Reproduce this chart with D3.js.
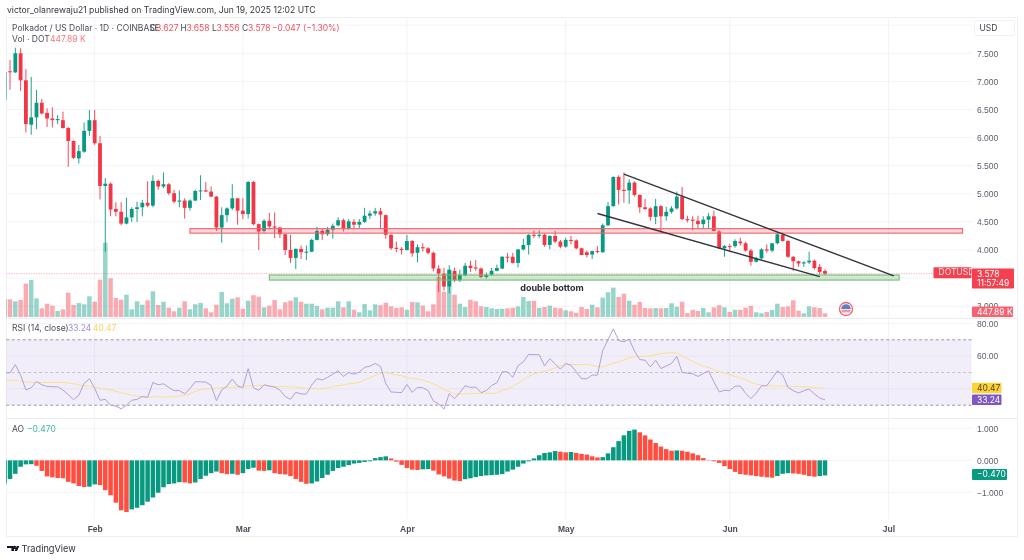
<!DOCTYPE html>
<html>
<head>
<meta charset="utf-8">
<script src="https://cdn.jsdelivr.net/npm/d3@7"></script>
<style>
    html, body { margin: 0; padding: 0; background: #fff; }
    svg { display: block; font-family: Inter, "Liberation Sans", sans-serif; filter: blur(0.35px); }
    .tick-label text { font-size: 8.5px; fill: #5d606b; }
    .month-axis text { font-size: 8.5px; font-weight: 600; fill: #4a4d57; }
    .legend { font-size: 8.5px; fill: #4a4d57; }
</style>
</head>
<body>
<div id="chart"></div>
<script>
// Jan 15 to Jun 19 2025, one row per month in every series
const opens = [
    6.67,7.18,7.16,7.50,7.02,6.23,6.36,6.62,6.44,6.34,6.31,6.31,6.17,5.94,5.63,5.75,6.12,
    6.31,5.90,5.14,5.18,4.73,4.68,4.47,4.58,4.73,4.76,4.84,4.79,5.23,5.13,5.17,5.01,4.86,4.88,4.75,4.88,5.05,5.06,5.04,4.95,4.40,4.62,4.74,4.92,
    4.70,4.64,5.21,4.46,4.34,4.52,4.42,4.40,4.28,4.00,3.86,4.02,3.96,3.97,4.18,4.34,4.28,4.36,4.44,4.53,4.39,4.50,4.45,4.50,4.61,4.65,4.69,4.62,4.27,4.04,4.02,
    4.00,4.16,3.95,4.05,4.03,3.95,3.67,3.58,3.35,3.63,3.46,3.55,3.72,3.69,3.67,3.52,3.56,3.63,3.67,3.88,3.88,3.77,4.01,4.09,4.27,4.26,4.27,4.09,4.25,4.15,
    4.06,4.18,4.17,4.03,3.96,3.92,3.98,3.96,4.44,4.78,5.30,5.07,5.06,5.20,4.98,4.76,4.74,4.59,4.78,4.60,4.68,4.74,4.95,4.55,4.54,4.52,4.46,4.54,4.60,4.33,4.03,
    4.07,4.07,4.15,4.12,3.99,3.79,3.85,4.01,3.99,4.12,4.27,4.16,3.88,3.80,3.76,3.78,3.81,3.70,3.627
];
const highs = [
    7.17,7.38,7.60,7.59,7.22,7.08,6.85,6.69,6.52,6.54,6.40,6.46,6.19,5.95,5.87,6.27,6.49,
    6.49,6.03,5.28,5.20,4.85,4.85,4.93,4.76,4.86,4.89,5.22,5.33,5.25,5.38,5.19,5.07,5.06,4.92,4.90,5.07,5.33,5.21,5.13,4.96,4.76,4.76,5.17,4.92,
    4.92,5.23,5.23,4.47,4.55,4.66,4.67,4.41,4.29,4.27,4.03,4.08,4.08,4.20,4.41,4.38,4.41,4.47,4.58,4.56,4.55,4.55,4.55,4.75,4.70,4.75,4.75,4.63,4.28,4.15,4.05,
    4.27,4.18,4.10,4.12,4.05,3.97,3.73,3.68,3.73,3.68,3.65,3.77,3.81,3.82,3.69,3.60,3.68,3.74,3.89,3.95,3.95,4.02,4.20,4.28,4.35,4.35,4.29,4.26,4.34,4.18,
    4.22,4.25,4.19,4.04,3.99,3.99,4.07,4.47,4.85,5.31,5.33,5.38,5.26,5.22,4.99,4.91,4.76,4.91,4.80,4.77,4.78,5.04,5.12,4.61,4.60,4.61,4.60,4.66,4.70,4.35,4.09,
    4.11,4.19,4.22,4.15,4.02,3.88,4.03,4.10,4.12,4.31,4.31,4.17,3.89,3.81,3.80,3.97,3.83,3.75,3.658
];
const lows = [
    6.67,6.85,7.15,6.83,6.09,6.05,6.15,6.41,6.19,6.18,6.24,6.16,5.48,5.62,5.54,5.73,6.03,
    5.87,4.90,3.97,4.60,4.60,4.44,4.46,4.50,4.50,4.60,4.76,4.76,5.07,5.10,4.98,4.83,4.76,4.56,4.70,4.87,4.89,5.03,4.94,4.34,4.13,4.50,4.71,4.45,
    4.55,4.56,4.44,4.00,4.31,4.37,4.21,4.21,3.91,3.77,3.66,3.84,3.82,3.96,4.17,4.18,4.25,4.20,4.42,4.33,4.36,4.38,4.39,4.48,4.55,4.61,4.38,4.20,4.00,3.96,3.92,
    3.99,3.88,3.78,3.97,3.92,3.62,3.25,3.28,3.23,3.43,3.43,3.53,3.61,3.63,3.50,3.49,3.54,3.62,3.66,3.78,3.76,3.69,3.99,3.92,4.21,4.21,4.06,4.01,4.12,4.03,
    4.04,4.10,4.01,3.91,3.87,3.84,3.94,3.95,4.42,4.77,4.81,4.84,4.82,4.95,4.66,4.71,4.52,4.46,4.30,4.52,4.65,4.72,4.53,4.49,4.35,4.39,4.39,4.39,4.33,4.02,3.88,
    3.96,4.04,4.08,3.97,3.72,3.78,3.83,3.95,3.96,4.10,4.15,3.86,3.63,3.70,3.70,3.75,3.65,3.56,3.556
];
const closes = [
    7.17,7.17,7.50,7.02,6.24,6.36,6.62,6.43,6.34,6.31,6.33,6.17,5.94,5.64,5.76,6.12,6.31,
    5.90,5.14,5.18,4.72,4.68,4.47,4.58,4.73,4.76,4.84,4.79,5.23,5.13,5.17,5.01,4.86,4.88,4.75,4.88,5.05,5.06,5.04,4.95,4.40,4.62,4.74,4.92,4.70,
    4.64,5.21,4.46,4.33,4.52,4.42,4.40,4.28,4.00,3.86,4.02,3.96,3.97,4.18,4.34,4.28,4.36,4.43,4.53,4.39,4.51,4.45,4.50,4.61,4.65,4.69,4.63,4.27,4.03,4.02,4.00,
    4.16,3.94,4.05,4.03,3.95,3.67,3.58,3.35,3.65,3.46,3.56,3.72,3.68,3.67,3.52,3.56,3.63,3.68,3.88,3.87,3.77,4.01,4.09,4.27,4.26,4.27,4.09,4.25,4.15,4.06,
    4.18,4.16,4.03,3.91,3.91,3.98,3.97,4.44,4.78,5.30,5.07,5.05,5.20,4.98,4.76,4.73,4.59,4.78,4.60,4.68,4.74,4.95,4.55,4.53,4.52,4.46,4.54,4.60,4.34,4.03,4.07,
    4.06,4.16,4.12,3.99,3.79,3.85,4.01,3.99,4.12,4.28,4.16,3.88,3.80,3.76,3.78,3.81,3.68,3.61,3.578
];
const volumes = [
    2180,2140,1900,2060,4030,4480,2260,1050,1610,1370,730,930,2940,1450,1690,1540,2500,
    1850,4510,8990,4680,2300,2090,2700,930,1900,1490,2020,3110,1450,1850,1130,690,1130,1900,930,1540,1690,1050,570,1490,3030,1660,2210,2380,
    1000,1970,2630,2460,1170,1370,2060,930,1780,1970,2380,1850,1610,1610,1330,930,1130,1130,1900,1170,1900,880,570,1570,810,1540,1420,1730,1290,1090,1170,
    880,1820,1780,1370,690,1540,4840,3060,5650,2700,1610,1210,2090,1900,1290,1210,1050,970,1000,1050,1130,1290,2420,1940,1940,1090,1210,1370,1130,1050,
    810,690,520,1210,970,1490,1170,2340,2990,3550,2420,2820,1970,1490,1820,1090,1050,1090,1050,1090,1660,1250,1850,480,880,730,1090,570,1170,1420,1170,
    610,880,850,1130,1330,570,450,610,850,1610,1210,1290,2020,760,450,1290,1170,1090,447.89
];
const rsiValues = [
    49.8,49.8,54.8,48.4,39.3,40.7,44.5,42.5,41.5,41.3,41.3,39.3,36.5,33.4,36,43.3,46.2,
    40.3,33,33.6,30,29.4,27.8,30,33,33.6,35.3,34.8,43.9,42.5,43.1,40.9,38.9,38.9,37,40.1,44.3,44.3,44.1,42.1,32.8,39.3,41.7,46,41.7,
    40.7,52.4,40.7,39.1,42.5,41.7,41.1,39.3,35.3,33.6,37.9,36.9,36.9,42.3,46.2,45.4,47,49,51,47.6,50,49,50.2,53.2,53.8,55.5,53.8,43.3,38.1,37.9,37.7,
    42.7,37.9,40.9,40.7,38.9,32.6,30.8,27.6,37.1,34,37.7,41.9,40.9,41.1,37.7,38.9,42.1,43.7,50.4,50.4,47,54.2,56.5,61.1,60.9,60.9,54,58.5,55.3,52,
    55.5,54.4,50.4,46.2,46.2,48.4,48.4,63.5,70,76.7,69.6,68.8,70.4,63.1,57.9,57.5,53.4,57.5,52.4,54,55.5,59.9,50,49.6,49.2,47.6,49.4,51,44.3,38.1,39.1,
    38.9,41.7,41.7,37.3,34,37.3,41.9,41.9,46.4,51,48.6,40.9,38.9,37.5,38.8,39.9,36.9,34.4,33.24
];
const rsiAverage = [
    44.9,45.2,45.3,44.7,44.3,44,43.9,43.9,43.9,43.9,43.9,43.8,43.7,43.2,42.4,41.9,41.5,
    40.9,40.5,39.9,39.3,38.5,37.7,36.9,36.2,35.6,35.1,35,35.1,35.2,35,35.1,35.3,35.6,36,37,38.4,39.4,40,40.2,40.5,40.7,40.9,41,41,
    41.3,41.8,41.9,42,41.9,41.7,41.5,41.3,41.3,41.3,41.1,40.7,40.4,40.1,40.1,40.1,40.6,41.5,42,42.4,43,43.5,44,45.4,46.8,48.2,49.5,49.9,49.3,48.4,48,
    47,46.3,46,45.4,44.3,43.1,41.5,39.7,38.3,37,36.7,36.9,37,37.3,37.3,37.3,37.3,37.5,38.9,40.1,41.7,43.5,45.6,47.6,49.2,50,50.8,51.6,52.8,54,
    55,55,54.8,54.8,54.8,54.4,53.8,53.4,54.6,55.7,56.5,57.7,58.9,59.7,59.9,59.9,60.3,60.9,61.5,61.9,62.1,61.9,60.1,58.5,56.9,55.3,54,53,51.8,50.6,49.6,
    48.6,47.6,46.6,45.6,43.9,42.9,42.3,41.9,41.7,41.7,41.7,41.7,41.5,41.5,41.3,41.1,40.9,40.5,40.47
];
const aoValues = [
    -.72,-.58,-.42,-.2,-.125,-.12,-.17,-.33,-.5,-.53,-.55,-.56,-.67,-.72,-.8,-.83,-.82,
    -.75,-.77,-.93,-1.09,-1.32,-1.56,-1.61,-1.53,-1.48,-1.4,-1.29,-1.16,-1.01,-.84,-.74,-.72,-.68,-.69,-.72,-.69,-.58,-.48,-.4,-.35,-.4,-.43,-.42,-.45,
    -.4,-.27,-.23,-.32,-.33,-.31,-.4,-.43,-.44,-.49,-.58,-.67,-.73,-.72,-.66,-.55,-.45,-.33,-.24,-.2,-.15,-.1,-.08,-.05,-.03,.07,.1,.125,.06,-.04,-.14,
    -.24,-.29,-.3,-.28,-.27,-.32,-.44,-.5,-.57,-.63,-.65,-.59,-.56,-.52,-.49,-.47,-.46,-.45,-.43,-.35,-.29,-.2,-.1,-.03,.06,.16,.23,.25,.29,.27,
    .25,.26,.23,.2,.18,.125,.09,.1,.22,.41,.6,.78,.92,.96,.875,.78,.65,.54,.43,.35,.3,.31,.3,.27,.22,.16,.07,-.01,-.03,-.08,-.18,
    -.27,-.36,-.43,-.45,-.47,-.49,-.51,-.53,-.54,-.49,-.42,-.4,-.41,-.42,-.45,-.49,-.51,-.49,-.47
];

const priceTicks = [3, 4, 4.5, 5, 5.5, 6, 6.5, 7, 7.5];
const priceGrid = [3, 3.5, 4, 4.5, 5, 5.5, 6, 6.5, 7, 7.5, 8];
const rsiTicks = [60, 80];
const rsiGrid = [40, 60, 80];
const rsiGuides = [70, 50, 30];
const aoTicks = [-1, 0, 1];
const monthTicks = ["2025-02-01", "2025-03-01", "2025-04-01", "2025-05-01", "2025-06-01", "2025-07-01"].map(d => new Date(d));
const axisEnd = new Date("2025-07-01");
const axisStart = new Date("2025-02-01");

// drawn zones and trend lines, as date and price
const resistanceZone = { from: "2025-02-19", to: "2025-07-15", top: 4.38, bottom: 4.30 };
const supportZone = { from: "2025-03-06", to: "2025-07-03", top: 3.555, bottom: 3.465 };
const trendLines = [
    [["2025-05-12", 5.35], ["2025-07-02", 3.54]],
    [["2025-05-07", 4.65], ["2025-06-18", 3.525]]
];
const lastPrice = 3.578;

const GREEN = "#089981";
const RED = "#f23645";
const AO_RED = "#ff4d3f";
const GRID = "#f3f3f6";
const PANE_LEFT = 6.2;
const PANE_RIGHT = 971.5;

const dates = d3.utcDay.range(new Date("2025-01-15"), new Date("2025-06-20"));
const rows = dates.map((date, i) => ({
    date, open: opens[i], high: highs[i], low: lows[i], close: closes[i],
    volume: volumes[i], rsi: rsiValues[i], rsiMa: rsiAverage[i], ao: aoValues[i],
    up: closes[i] >= opens[i],
    rising: i === 0 || aoValues[i] >= aoValues[i - 1]
}));

const x = d3.scaleUtc().domain([axisStart, axisEnd]).range([94.7, 888.5]);
const yPrice = d3.scaleLinear().domain([3, 7.5]).range([306.2, 53.3]);
const yVolume = d3.scaleLinear().domain([0, 9000]).range([317, 242.6]);
const yRsi = d3.scaleLinear().domain([30, 70]).range([405.2, 339.8]);
const yAo = d3.scaleLinear().domain([-1, 1]).range([492.4, 428.3]);

const svg = d3.select("#chart").append("svg").attr("width", 1024).attr("height", 560);

svg.append("defs").append("clipPath").attr("id", "pane")
    .append("rect").attr("x", PANE_LEFT).attr("y", 17).attr("width", PANE_RIGHT - PANE_LEFT).attr("height", 503);

// frame and pane separators
svg.append("rect").attr("x", 6.5).attr("y", 17.5).attr("width", 1011).attr("height", 519)
    .attr("fill", "none").attr("stroke", "#f0f0f3");
[318.5, 418.5].forEach(y => svg.append("line")
    .attr("x1", 6.5).attr("x2", 1017.5).attr("y1", y).attr("y2", y)
    .attr("stroke", "#ebebef"));

// grid
const grid = svg.append("g").attr("stroke", GRID).attr("stroke-width", 1);
grid.selectAll(".v").data(monthTicks).join("line")
    .attr("x1", d => x(d)).attr("x2", d => x(d)).attr("y1", 17).attr("y2", 519);
grid.selectAll(".p").data(priceGrid).join("line")
    .attr("x1", PANE_LEFT).attr("x2", PANE_RIGHT).attr("y1", d => yPrice(d)).attr("y2", d => yPrice(d));
grid.selectAll(".r").data(rsiGrid).join("line")
    .attr("x1", PANE_LEFT).attr("x2", PANE_RIGHT).attr("y1", d => yRsi(d)).attr("y2", d => yRsi(d));
grid.selectAll(".a").data(aoTicks).join("line")
    .attr("x1", PANE_LEFT).attr("x2", PANE_RIGHT).attr("y1", d => yAo(d)).attr("y2", d => yAo(d));

const plot = svg.append("g").attr("clip-path", "url(#pane)");

// volume sits behind the candles
const barWidth = 4.5;
plot.append("g").selectAll("rect").data(rows).join("rect")
    .attr("x", d => x(d.date) - barWidth / 2)
    .attr("width", barWidth)
    .attr("y", d => yVolume(d.volume))
    .attr("height", d => yVolume(0) - yVolume(d.volume))
    .attr("fill", d => d.up ? GREEN : RED)
    .attr("opacity", 0.42);

// last price line
plot.append("line")
    .attr("x1", PANE_LEFT).attr("x2", PANE_RIGHT)
    .attr("y1", yPrice(lastPrice)).attr("y2", yPrice(lastPrice))
    .attr("stroke", RED).attr("stroke-width", 0.8).attr("stroke-dasharray", "1,1.5").attr("opacity", 0.6);

// candles
const candles = plot.append("g").selectAll("g").data(rows).join("g");
candles.append("line")
    .attr("x1", d => x(d.date)).attr("x2", d => x(d.date))
    .attr("y1", d => yPrice(d.high)).attr("y2", d => yPrice(d.low))
    .attr("stroke", d => d.up ? GREEN : RED).attr("stroke-width", 0.9);
candles.append("rect")
    .attr("x", d => x(d.date) - 1.9)
    .attr("width", 3.8)
    .attr("y", d => yPrice(Math.max(d.open, d.close)))
    .attr("height", d => Math.max(1, Math.abs(yPrice(d.open) - yPrice(d.close))))
    .attr("fill", d => d.up ? GREEN : RED);

// zones
function drawZone(zone, fill, stroke) {
    svg.append("rect")
        .attr("x", x(new Date(zone.from)))
        .attr("width", x(new Date(zone.to)) - x(new Date(zone.from)))
        .attr("y", yPrice(zone.top))
        .attr("height", yPrice(zone.bottom) - yPrice(zone.top))
        .attr("fill", fill)
        .attr("stroke", stroke)
        .attr("stroke-width", 1.1);
}
drawZone(resistanceZone, "rgba(242,54,69,0.2)", "#f4606c");
drawZone(supportZone, "rgba(76,175,80,0.25)", "#76b878");

// trend lines
const trendLine = d3.line().x(d => x(new Date(d[0]))).y(d => yPrice(d[1]));
svg.append("g").selectAll("path").data(trendLines).join("path")
    .attr("d", trendLine)
    .attr("fill", "none")
    .attr("stroke", "#33363f")
    .attr("stroke-width", 1.4);

svg.append("text").attr("x", 552).attr("y", 291).attr("text-anchor", "middle")
    .attr("font-size", 9).attr("font-weight", 700).attr("fill", "#2a2e39")
    .text("double bottom");

// RSI pane
svg.append("rect")
    .attr("x", PANE_LEFT).attr("width", PANE_RIGHT - PANE_LEFT)
    .attr("y", yRsi(70)).attr("height", yRsi(30) - yRsi(70))
    .attr("fill", "#7e57c2").attr("opacity", 0.1);
svg.append("g").selectAll("line").data(rsiGuides).join("line")
    .attr("x1", PANE_LEFT).attr("x2", PANE_RIGHT)
    .attr("y1", d => yRsi(d)).attr("y2", d => yRsi(d))
    .attr("stroke", "#8b8e98")
    .attr("stroke-opacity", d => d === 50 ? 0.45 : 0.9)
    .attr("stroke-dasharray", "3,2.5");

const rsiPlot = svg.append("g").attr("clip-path", "url(#pane)").attr("fill", "none");
rsiPlot.append("path")
    .attr("d", d3.line().x(d => x(d.date)).y(d => yRsi(d.rsiMa))(rows))
    .attr("stroke", "#fbdf8e").attr("stroke-width", 1);
rsiPlot.append("path")
    .attr("d", d3.line().x(d => x(d.date)).y(d => yRsi(d.rsi))(rows))
    .attr("stroke", "#b39ddb").attr("stroke-width", 1);

// AO pane
const zeroY = yAo(0);
svg.append("g").attr("clip-path", "url(#pane)").selectAll("rect").data(rows).join("rect")
    .attr("x", d => x(d.date) - barWidth / 2)
    .attr("width", barWidth)
    .attr("y", d => Math.min(zeroY, yAo(d.ao)))
    .attr("height", d => Math.abs(yAo(d.ao) - zeroY))
    .attr("fill", d => d.rising ? GREEN : AO_RED);

// axes, with the library's ticks restyled to bare labels
function valueAxis(scale, ticks, fmt) {
    const g = svg.append("g").attr("class", "tick-label")
        .attr("transform", `translate(971,0)`)
        .call(d3.axisRight(scale).tickValues(ticks).tickFormat(fmt).tickSize(0).tickPadding(6));
    g.select(".domain").remove();
    g.selectAll("text").attr("font-family", null);
    return g;
}
const dash = s => s.replace("-", "\u2212");
valueAxis(yPrice, priceTicks, d3.format(".3f"));
valueAxis(yRsi, rsiTicks, d3.format(".2f"));
valueAxis(yAo, aoTicks, d => dash(d3.format(".3f")(d)));

const monthAxis = svg.append("g").attr("class", "month-axis")
    .attr("transform", "translate(0,520)")
    .call(d3.axisBottom(x).tickValues(monthTicks).tickFormat(d3.utcFormat("%b")).tickSize(0).tickPadding(6));
monthAxis.select(".domain").remove();
monthAxis.selectAll("text").attr("font-family", null);

// price axis badges
function badge(bx, by, w, h, fill, lines, textFill) {
    svg.append("rect").attr("x", bx).attr("y", by).attr("width", w).attr("height", h).attr("rx", 1).attr("fill", fill);
    lines.forEach((t, i) => svg.append("text")
        .attr("x", bx + 5).attr("y", by + 8 + i * 9.6)
        .attr("font-size", 8.5).attr("fill", textFill || "#fff").text(t));
}
svg.append("rect").attr("x", 974.5).attr("y", 20.5).attr("width", 40).attr("height", 15).attr("rx", 2)
    .attr("fill", "#fff").attr("stroke", "#f0f0f3");
svg.append("text").attr("x", 979.5).attr("y", 31).attr("font-size", 8.5).attr("fill", "#3c3f49").text("USD");

badge(933.5, yPrice(lastPrice) - 6.5, 38, 11, "#f4404f", ["DOTUSD"], "#ffe3e5");
badge(972, 268.5, 42, 20, "#f4404f", ["3.578", "11:57:49"]);
badge(972, 306.5, 41, 10.5, "#f76270", ["447.89 K"]);
badge(972, 382.8, 29.5, 10.4, "#fdd23c", ["40.47"], "#5a4a10");
badge(972, 394.6, 29.5, 10.4, "#7e57c2", ["33.24"]);
badge(972, 469, 35, 11, GREEN, ["\u22120.470"]);

// header and legends
svg.append("text").attr("x", 7).attr("y", 13).attr("font-size", 8.6).attr("fill", "#33363f")
    .text("victor_olanrewaju21 published on TradingView.com, Jun 19, 2025 12:02 UTC");

function legend(px, py, text, fill) {
    svg.append("text").attr("class", "legend").attr("x", px).attr("y", py)
        .style("fill", fill || null).text(text);
}
const REDTXT = "#f4505e";
legend(12, 30.5, "Polkadot / US Dollar \u00b7 1D \u00b7 COINBASE");
legend(150, 30.5, "O"); legend(156, 30.5, "3.627", REDTXT);
legend(180.5, 30.5, "H"); legend(186.5, 30.5, "3.658", REDTXT);
legend(212, 30.5, "L"); legend(216.5, 30.5, "3.556", REDTXT);
legend(242, 30.5, "C"); legend(248, 30.5, "3.578", REDTXT);
legend(272, 30.5, "\u22120.047 (\u22121.30%)", REDTXT);
legend(12, 41.5, "Vol \u00b7 DOT");
legend(50, 41.5, "447.89 K", "#f77b85");
legend(12, 331, "RSI (14, close)");
legend(68, 331, "33.24", "#a58cd8");
legend(93, 331, "40.47", "#fbd35f");
legend(12, 432, "AO");
legend(27, 432, "\u22120.470", "#3fb8a3");

// US flag event marker
const flag = svg.append("g").attr("transform", "translate(846,309)");
flag.append("circle").attr("r", 6.5).attr("fill", "#fff").attr("stroke", "#f4606c").attr("stroke-width", 1.3);
flag.append("path").attr("d", "M-4.8,0A4.8,4.8 0 0 1 4.8,0Z").attr("fill", "#5b7fc7");
[0.8, 2.4].forEach(dy => flag.append("rect").attr("x", -4.4).attr("y", dy).attr("width", 8.8).attr("height", 0.9).attr("fill", "#e8606a"));

// TradingView mark
svg.append("path").attr("d", "M7,546H14V551H11.4V548H7ZM14.6,551L16.8,546H19.3L17,551ZM14,547.2A1,1 0 1 0 15.8,547.2A1,1 0 1 0 14,547.2Z")
    .attr("fill", "#131722");
svg.append("text").attr("x", 21.5).attr("y", 552).attr("font-size", 9.2).attr("fill", "#2a2e39").text("TradingView");
</script>
</body>
</html>
